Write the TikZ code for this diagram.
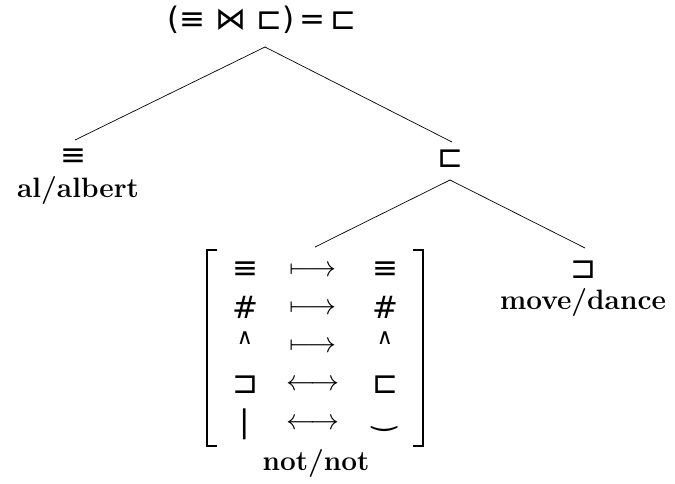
\documentclass[tikz,border=0pt]{standalone}
\usepackage{amsmath}
\usepackage{graphicx}
\usepackage{fontspec}
\newfontfamily\symf{DejaVu Sans}
\newcommand{\bigarr}[1]{\scalebox{2.9}{$#1$}}
\begin{document}
\begin{tikzpicture}[x=1pt,y=-1pt,
  sym/.style={inner sep=0pt,font=\symf\fontsize{31}{36}\selectfont},
  small/.style={inner sep=0pt,font=\symf\fontsize{22}{26}\selectfont},
  word/.style={inner sep=0pt,font=\bfseries\fontsize{28}{32}\selectfont},
  arr/.style={inner sep=0pt,font=\normalsize},
  edge/.style={line width=0.7pt},
  brk/.style={line width=1.6pt}]
\useasboundingbox (0,0) rectangle (675,483);
% root
\node[sym] (root) at (262,20) {(≡ ⋈ ⊏)\,=\,⊏};
\coordinate (rootb) at (265,47);
% left leaf
\node[sym] (eq) at (73,157) {≡};
\node[word] (al) at (78,190) {al/albert};
\coordinate (eqt) at (75,140);
% right subtree
\node[sym] (sq) at (450,159) {⊏};
\coordinate (sqt) at (452,142);
\coordinate (sqb) at (450,180);
\node[sym] (sqr) at (583,270) {⊐};
\coordinate (sqrt) at (585,248);
\node[word] (move) at (583,302) {move/dance};
\coordinate (matt) at (315,247);
% tree edges
\draw[edge] (eqt) -- (rootb) -- (sqt);
\draw[edge] (matt) -- (sqb) -- (sqrt);
% matrix entries
\node[sym] (a1) at (245,270) {≡};
\node[arr] (b1) at (313,271) {\bigarr{\longmapsto}};
\node[sym] (c1) at (385,270) {≡};
\node[sym] (a2) at (245,307) {\#};
\node[arr] (b2) at (313,309) {\bigarr{\longmapsto}};
\node[sym] (c2) at (385,307) {\#};
\node[small] (a3) at (245,338) {∧};
\node[arr] (b3) at (313,347) {\bigarr{\longmapsto}};
\node[small] (c3) at (385,338) {∧};
\node[sym] (a4) at (245,385) {⊐};
\node[arr] (b4) at (313,385) {\bigarr{\longleftrightarrow}};
\node[sym] (c4) at (385,385) {⊏};
\node[sym] (a5) at (245,424) {|};
\node[arr] (b5) at (313,424) {\bigarr{\longleftrightarrow}};
\node[small,font=\symf\fontsize{30}{30}\selectfont] (c5) at (385,428) {‿};
% brackets
\coordinate (lbt) at (207,250);
\coordinate (lbb) at (207,446);
\coordinate (rbt) at (423,250);
\coordinate (rbb) at (423,446);
\draw[brk] ([xshift=10pt]lbt) -- (lbt) -- (lbb) -- ([xshift=10pt]lbb);
\draw[brk] ([xshift=-10pt]rbt) -- (rbt) -- (rbb) -- ([xshift=-10pt]rbb);
\node[word] (not) at (316,463) {not/not};
\end{tikzpicture}
\end{document}
